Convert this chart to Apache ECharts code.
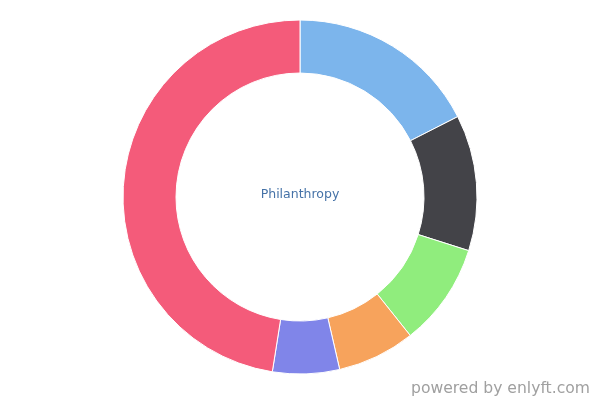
<!DOCTYPE html>
<html>
<head>
<meta charset="utf-8">
<script src="https://cdn.jsdelivr.net/npm/echarts@6/dist/echarts.min.js"></script>
<style>html,body{margin:0;padding:0;background:#fff;}#c{width:600px;height:400px;}</style>
</head>
<body>
<div id="c"></div>
<script>
const categories = ["Segment 1", "Segment 2", "Segment 3", "Segment 4", "Segment 5", "Segment 6"];
const values = [17.5, 12.4, 9.4, 7.1, 6.1, 47.5];
const colors = ["#7cb5ec", "#434348", "#90ed7d", "#f7a35c", "#8085e9", "#f45b7a"];
const centerLabel = "Philanthropy";
const credit = "powered by enlyft.com";

const chart = echarts.init(document.getElementById('c'), null, {renderer: 'canvas'});
chart.setOption({
  animation: false,
  color: colors,
  graphic: [
    {type: 'text', left: 'center', top: 188, style: {text: centerLabel, fill: '#4572a7', font: '12.5px "DejaVu Sans", sans-serif'}},
    {type: 'text', right: 10, top: 381, style: {text: credit, fill: '#a0a0a0', font: '15.6px "DejaVu Sans", sans-serif'}}
  ],
  series: [{
    type: 'pie',
    center: [300, 197],
    radius: [124, 177],
    startAngle: 90,
    clockwise: true,
    label: {show: false},
    labelLine: {show: false},
    itemStyle: {borderColor: '#ffffff', borderWidth: 1},
    data: categories.map((n, i) => ({name: n, value: values[i]}))
  }]
});
</script>
</body>
</html>
